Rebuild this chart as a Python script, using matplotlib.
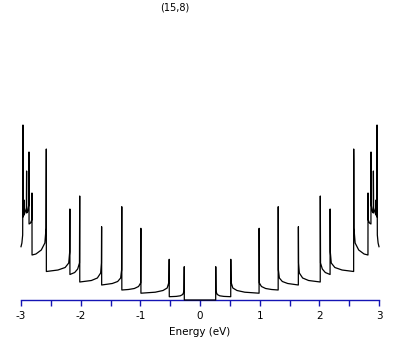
import matplotlib
matplotlib.use("Agg")
import matplotlib.pyplot as plt
from matplotlib.ticker import MultipleLocator

# density of states (energy in eV, DOS in arbitrary units)
neg_E = [-3.0, -2.985, -2.972, -2.967, -2.966, -2.953, -2.949, -2.948, -2.93, -2.91,
         -2.906, -2.905, -2.89, -2.87, -2.866, -2.865, -2.84, -2.82, -2.816,
         -2.815, -2.75, -2.66, -2.60, -2.58, -2.578, -2.576,
         -2.575, -2.38, -2.26, -2.20, -2.184, -2.181,
         -2.18, -2.10, -2.05, -2.02, -2.018, -2.016,
         -2.015, -1.82, -1.72, -1.665, -1.652, -1.649,
         -1.648, -1.47, -1.38, -1.33, -1.314, -1.311,
         -1.31, -1.20, -1.10, -1.03, -0.995, -0.991,
         -0.99, -0.75, -0.62, -0.55, -0.52, -0.516,
         -0.515, -0.40, -0.33, -0.29, -0.268, -0.264, -0.263, 0.0]
neg_D = [5.33, 5.7, 6.5, 17.5, 8.3, 8.6, 10.0, 8.5, 8.8, 9.2,
         12.9, 8.7, 8.8, 9.5, 14.8, 7.6, 7.7, 8.0, 10.7,
         4.5, 4.6, 5.0, 5.7, 7.2, 13.8, 15.1,
         2.85, 3.0, 3.25, 3.7, 4.8, 9.1,
         2.55, 2.75, 3.1, 3.7, 7.5, 10.4,
         1.8, 1.95, 2.2, 2.7, 3.7, 7.33,
         1.5, 1.65, 1.85, 2.2, 3.0, 9.33,
         1.0, 1.05, 1.15, 1.35, 1.7, 7.17,
         0.68, 0.78, 0.95, 1.2, 1.8, 4.07,
         0.33, 0.36, 0.42, 0.55, 0.85, 3.33, 0, 0]

pos_E = [0.263, 0.264, 0.268, 0.29, 0.33, 0.40, 0.515,
         0.516, 0.52, 0.55, 0.62, 0.75, 0.99,
         0.991, 0.995, 1.03, 1.10, 1.20, 1.31,
         1.311, 1.314, 1.33, 1.38, 1.47, 1.648,
         1.649, 1.652, 1.665, 1.72, 1.82, 2.015,
         2.016, 2.018, 2.02, 2.05, 2.10, 2.18,
         2.181, 2.184, 2.20, 2.26, 2.38, 2.575,
         2.576, 2.578, 2.58, 2.60, 2.66, 2.75, 2.815,
         2.816, 2.82, 2.84, 2.865, 2.866, 2.87, 2.89, 2.905, 2.906, 2.91,
         2.93, 2.948, 2.949, 2.953, 2.966, 2.967, 2.972, 2.985, 3.0]
pos_D = [0, 3.33, 0.85, 0.55, 0.42, 0.36, 0.33,
         4.07, 1.8, 1.2, 0.95, 0.78, 0.68,
         7.17, 1.7, 1.35, 1.15, 1.05, 1.0,
         9.33, 3.0, 2.2, 1.85, 1.65, 1.5,
         7.33, 3.7, 2.7, 2.2, 1.95, 1.8,
         10.4, 7.5, 3.7, 3.1, 2.75, 2.55,
         9.1, 4.8, 3.7, 3.25, 3.0, 2.85,
         15.1, 13.8, 7.2, 5.7, 5.0, 4.6, 4.5,
         10.7, 8.0, 7.7, 7.6, 14.8, 9.5, 8.8, 8.7, 12.9, 9.2,
         8.8, 8.5, 10.0, 8.6, 8.3, 17.5, 6.5, 5.7, 5.33]

energy = neg_E + pos_E
dos = neg_D + pos_D

plt.rcParams['axes.unicode_minus'] = False
plt.rcParams['font.family'] = ['DejaVu Sans']

fig = plt.figure(figsize=(4.09, 3.45), dpi=100)
ax = fig.add_axes([21 / 409, 45 / 345, 358 / 409, 280 / 345])

ax.plot(energy, dos, color="black", lw=0.9, zorder=3, clip_on=False)

ax.set_xlim(-3, 3)
ax.set_ylim(0, 28)

# only the bottom axis is shown, in blue
for s in ["left", "right", "top"]:
    ax.spines[s].set_visible(False)
ax.spines["bottom"].set_color("#1414b4")
ax.spines["bottom"].set_linewidth(1.0)
ax.set_yticks([])

ax.xaxis.set_major_locator(MultipleLocator(1))
ax.xaxis.set_minor_locator(MultipleLocator(0.5))
ax.tick_params(axis="x", which="both", direction="out", length=4, width=1.0,
               color="#1414b4", labelsize=7.5, pad=4)

ax.set_xlabel("Energy (eV)", fontsize=7.5, labelpad=4)
fig.text(175 / 409, 1 - 8 / 345, "(15,8)", fontsize=7, ha="center", va="center")

fig.savefig("out.png", dpi=100)
